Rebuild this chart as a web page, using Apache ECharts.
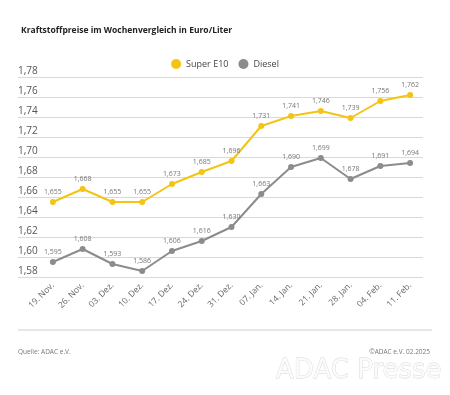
<!DOCTYPE html>
<html><head><meta charset="utf-8">
<script src="https://cdn.jsdelivr.net/npm/echarts@6/dist/echarts.min.js"></script>
<style>html,body{margin:0;padding:0;background:#fff}#c{width:450px;height:395px}</style>
</head><body><div id="c"></div>
<script>
const categories = ['19. Nov.','26. Nov.','03. Dez.','10. Dez.','17. Dez.','24. Dez.','31. Dez.','07. Jan.','14. Jan.','21. Jan.','28. Jan.','04. Feb.','11. Feb.'];
const superE10 = [1.655,1.668,1.655,1.655,1.673,1.685,1.696,1.731,1.741,1.746,1.739,1.756,1.762];
const diesel = [1.595,1.608,1.593,1.586,1.606,1.616,1.630,1.663,1.690,1.699,1.678,1.691,1.694];
const yMin = 1.58, yMax = 1.78, yStep = 0.02;

const F = 'Open Sans, Noto Sans, sans-serif';
const fmt = v => v.toFixed(3).replace('.', ',');
const chart = echarts.init(document.getElementById('c'), null, {renderer:'canvas'});
const lbl = {show:true, position:'top', distance:4, fontSize:7, color:'#777', fontFamily:F, formatter:p=>fmt(p.value)};
chart.setOption({
  animation:false,
  textStyle:{fontFamily:F},
  title:{text:'Kraftstoffpreise im Wochenvergleich in Euro/Liter', left:16, top:21,
    textStyle:{fontSize:8.5, fontWeight:'bold', color:'#222', fontFamily:F}},
  legend:{top:54, left:'center', itemWidth:10, itemHeight:10, itemGap:10, icon:'circle',
    textStyle:{fontSize:9, color:'#444', fontFamily:F}, data:['Super E10','Diesel']},
  grid:[
    {left:38, right:25, top:77, bottom:118},
    {left:18, right:27, top:77, bottom:118}
  ],
  xAxis:[
    {type:'category', gridIndex:0, data:categories, boundaryGap:true,
     axisLine:{show:false}, axisTick:{show:false},
     axisLabel:{rotate:45, fontSize:8.5, color:'#666', margin:7, interval:0, fontFamily:F}},
    {type:'value', gridIndex:1, show:false, min:0, max:1}
  ],
  yAxis:[
    {type:'value', gridIndex:0, min:yMin, max:yMax, interval:yStep, show:false},
    {type:'value', gridIndex:1, min:yMin, max:yMax, interval:yStep,
     axisLine:{show:false}, axisTick:{show:false},
     splitLine:{lineStyle:{color:'#d9d9d9', width:1}},
     axisLabel:{inside:false, margin:0, align:'left', verticalAlign:'bottom', padding:[0,0,1,0],
       fontSize:10, color:'#555', fontFamily:F, formatter:v=>v.toFixed(2).replace('.', ',')}}
  ],
  series:[
    {name:'Super E10', type:'line', xAxisIndex:0, yAxisIndex:0, data:superE10,
     symbol:'circle', symbolSize:6, color:'#f4c414', lineStyle:{width:2}, label:lbl},
    {name:'Diesel', type:'line', xAxisIndex:0, yAxisIndex:0, data:diesel,
     symbol:'circle', symbolSize:6, color:'#8c8c8c', lineStyle:{width:2}, label:lbl}
  ],
  graphic:[
    {type:'line', shape:{x1:18,y1:330,x2:432,y2:330}, style:{stroke:'#d0d0d0', lineWidth:1}},
    {type:'text', left:18, top:349, style:{text:'Quelle: ADAC e.V.', fontSize:6.5, fill:'#777', fontFamily:F}},
    {type:'text', right:20, top:349, style:{text:'©ADAC e.V. 02.2025', fontSize:6.5, fill:'#777', fontFamily:F}},
    {type:'text', right:8, top:358, style:{text:'ADAC Presse', fontSize:26, fill:'#fbfbfb', stroke:'#d6d6d6', lineWidth:0.8, fontFamily:'DejaVu Sans, sans-serif'}}
  ]
});
</script></body></html>
